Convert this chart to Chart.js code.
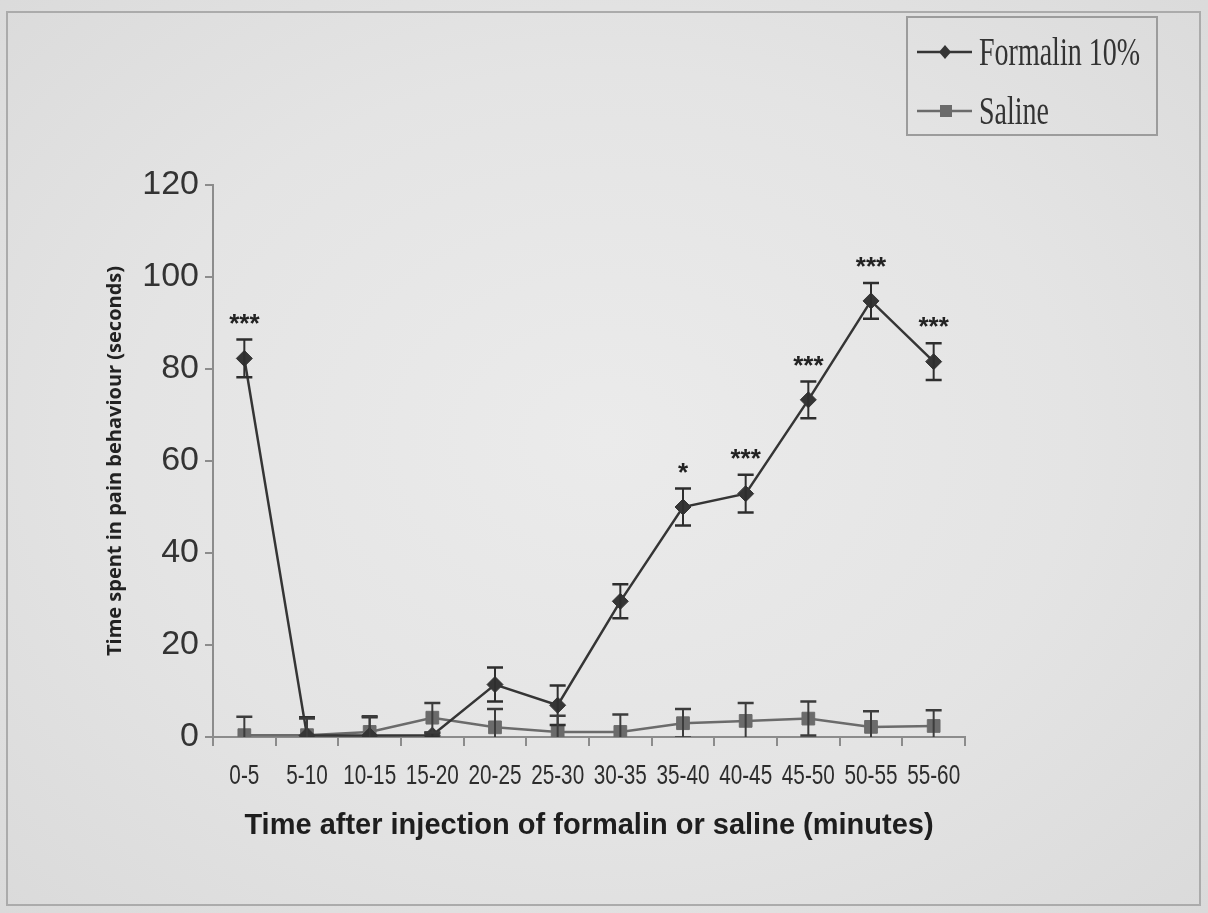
<!DOCTYPE html>
<html>
<head>
<meta charset="utf-8">
<title>Formalin test</title>
<script src="https://cdn.jsdelivr.net/npm/chart.js@4.4.1/dist/chart.umd.min.js"></script>
<style>
    html, body { margin: 0; padding: 0; background: #e3e3e3; }
    #wrap {
        position: relative;
        width: 1208px;
        height: 913px;
        overflow: hidden;
        background: radial-gradient(ellipse at 50% 48%, #ebebeb 0%, #e4e4e4 55%, #dadada 100%);
    }
    #frame {
        position: absolute;
        left: 6px; top: 11px;
        width: 1195px; height: 895px;
        border: 2px solid #ababab;
        box-sizing: border-box;
    }
    #chart { position: absolute; left: 0; top: 0; }
</style>
</head>
<body>
<div id="wrap">
    <div id="frame"></div>
    <canvas id="chart" width="1208" height="913"></canvas>
</div>
<script>
// Time bins (minutes after injection)
const timeBins = ['0-5', '5-10', '10-15', '15-20', '20-25', '25-30',
                  '30-35', '35-40', '40-45', '45-50', '50-55', '55-60'];

// Mean time spent in pain behaviour (s) and SEM
const formalinMeans = [82.3, 0.3, 0.3, 0.4, 11.4, 6.9, 29.5, 50.0, 52.9, 73.3, 94.8, 81.6];
const formalinSem   = [4.1, 4.0, 4.0, 0.5, 3.7, 4.3, 3.7, 4.0, 4.1, 4.0, 3.9, 4.0];
const salineMeans   = [0.4, 0.4, 1.1, 4.2, 2.1, 1.1, 1.1, 3.0, 3.5, 4.0, 2.2, 2.4];
const salineSem     = [4.0, 3.6, 3.4, 3.2, 4.0, 3.5, 3.8, 3.1, 3.9, 3.7, 3.4, 3.4];

// Significance vs saline
const significance = ['***', '', '', '', '', '', '', '*', '***', '***', '***', '***'];

const yTicks = [0, 20, 40, 60, 80, 100, 120];

const FORMALIN_COLOR = '#353535';
const SALINE_COLOR = '#6b6b6b';

// SEM whiskers, clipped at the x axis
const errorBars = {
    id: 'errorBars',
    afterDatasetsDraw(chart) {
        const { ctx, chartArea, scales: { y } } = chart;
        ctx.save();
        ctx.beginPath();
        ctx.rect(chartArea.left, 0, chartArea.width, chartArea.bottom);
        ctx.clip();
        chart.data.datasets.forEach((ds, i) => {
            const meta = chart.getDatasetMeta(i);
            ctx.strokeStyle = ds.errorColor;
            meta.data.forEach((pt, j) => {
                const err = ds.errors[j];
                const top = y.getPixelForValue(ds.data[j] + err);
                const bottom = y.getPixelForValue(ds.data[j] - err);
                ctx.lineWidth = 2;
                ctx.beginPath();
                ctx.moveTo(pt.x, top);
                ctx.lineTo(pt.x, bottom);
                ctx.stroke();
                ctx.lineWidth = 2.5;
                ctx.beginPath();
                ctx.moveTo(pt.x - 8, top);
                ctx.lineTo(pt.x + 8, top);
                ctx.moveTo(pt.x - 8, bottom);
                ctx.lineTo(pt.x + 8, bottom);
                ctx.stroke();
            });
        });
        ctx.restore();

        // asterisks above the formalin whiskers
        const meta = chart.getDatasetMeta(0);
        ctx.save();
        ctx.fillStyle = '#222';
        ctx.font = 'bold 26px "Liberation Sans", Arial, sans-serif';
        ctx.textAlign = 'center';
        ctx.textBaseline = 'middle';
        significance.forEach((s, j) => {
            if (!s) return;
            const top = y.getPixelForValue(formalinMeans[j] + formalinSem[j]);
            ctx.fillText(s, meta.data[j].x, top - 15);
        });
        ctx.restore();
    }
};

// Narrow category labels under the x axis
const narrowTicks = {
    id: 'narrowTicks',
    afterDraw(chart) {
        const { ctx, scales: { x } } = chart;
        ctx.save();
        ctx.fillStyle = '#2c2c2c';
        ctx.font = '28px "Liberation Sans", Arial, sans-serif';
        ctx.textAlign = 'center';
        ctx.textBaseline = 'middle';
        chart.data.labels.forEach((label, i) => {
            ctx.save();
            ctx.translate(x.getPixelForValue(i), 776);
            ctx.scale(0.74, 1);
            ctx.fillText(label, 0, 0);
            ctx.restore();
        });
        ctx.restore();
    }
};

// Boxed legend in the top right corner
const boxLegend = {
    id: 'boxLegend',
    afterDraw(chart) {
        const { ctx } = chart;
        const box = { x: 907, y: 17, w: 250, h: 118 };
        ctx.save();
        ctx.strokeStyle = '#9c9c9c';
        ctx.lineWidth = 2;
        ctx.strokeRect(box.x, box.y, box.w, box.h);

        chart.data.datasets.forEach((ds, i) => {
            const cy = box.y + 35 + i * 59;
            ctx.strokeStyle = ds.borderColor;
            ctx.lineWidth = 2.5;
            ctx.beginPath();
            ctx.moveTo(box.x + 10, cy);
            ctx.lineTo(box.x + 65, cy);
            ctx.stroke();
            ctx.fillStyle = ds.pointBackgroundColor;
            ctx.beginPath();
            if (ds.pointStyle === 'rectRot') {
                ctx.moveTo(box.x + 38, cy - 7);
                ctx.lineTo(box.x + 44, cy);
                ctx.lineTo(box.x + 38, cy + 7);
                ctx.lineTo(box.x + 32, cy);
                ctx.closePath();
            } else {
                ctx.rect(box.x + 33, cy - 6, 12, 12);
            }
            ctx.fill();

            ctx.save();
            ctx.translate(box.x + 72, cy);
            ctx.scale(0.7, 1);
            ctx.fillStyle = '#333';
            ctx.font = '40px "Liberation Serif", "Times New Roman", serif';
            ctx.textBaseline = 'middle';
            ctx.fillText(ds.label, 0, 2);
            ctx.restore();
        });
        ctx.restore();
    }
};

const axisGrey = '#8c8c8c';

new Chart(document.getElementById('chart'), {
    type: 'line',
    data: {
        labels: timeBins,
        datasets: [{
            label: 'Formalin 10%',
            data: formalinMeans,
            errors: formalinSem,
            errorColor: '#2e2e2e',
            borderColor: FORMALIN_COLOR,
            borderWidth: 2.5,
            pointStyle: 'rectRot',
            pointRadius: 8,
            pointBackgroundColor: FORMALIN_COLOR,
            pointBorderColor: FORMALIN_COLOR,
            pointBorderWidth: 1,
            tension: 0
        }, {
            label: 'Saline',
            data: salineMeans,
            errors: salineSem,
            errorColor: '#3c3c3c',
            borderColor: SALINE_COLOR,
            borderWidth: 2.5,
            pointStyle: 'rect',
            pointRadius: 9,
            pointBackgroundColor: SALINE_COLOR,
            pointBorderColor: SALINE_COLOR,
            pointBorderWidth: 1,
            tension: 0
        }]
    },
    options: {
        responsive: false,
        animation: false,
        layout: { padding: { left: 0, top: 185, right: 243, bottom: 0 } },
        plugins: {
            legend: { display: false },
            tooltip: { enabled: false }
        },
        scales: {
            x: {
                offset: true,
                grid: {
                    offset: true,
                    drawOnChartArea: false,
                    tickLength: 9,
                    color: axisGrey,
                    lineWidth: 2
                },
                border: { color: axisGrey, width: 2 },
                ticks: { display: false, autoSkip: false },
                title: {
                    display: true,
                    text: 'Time after injection of formalin or saline (minutes)',
                    color: '#1e1e1e',
                    font: { family: '"Liberation Sans", Arial, sans-serif', size: 29, weight: 'bold' },
                    padding: { top: 0, bottom: 70 }
                },
                afterFit(scale) { scale.height = 913 - 737; }
            },
            y: {
                min: 0,
                max: 120,
                afterBuildTicks(scale) {
                    scale.ticks = yTicks.map(v => ({ value: v }));
                },
                grid: {
                    drawOnChartArea: false,
                    tickLength: 8,
                    color: axisGrey,
                    lineWidth: 2
                },
                border: { color: axisGrey, width: 2 },
                ticks: {
                    padding: 6,
                    color: '#333',
                    font: { family: '"Liberation Sans", Arial, sans-serif', size: 34 }
                },
                title: {
                    display: true,
                    text: 'Time spent in pain behaviour (seconds)',
                    color: '#222',
                    font: { family: '"Open Sans", sans-serif', size: 20, weight: 'bold' },
                    padding: { top: 103, bottom: 0 }
                },
                afterFit(scale) { scale.width = 213; }
            }
        }
    },
    plugins: [errorBars, narrowTicks, boxLegend]
});
</script>
</body>
</html>
